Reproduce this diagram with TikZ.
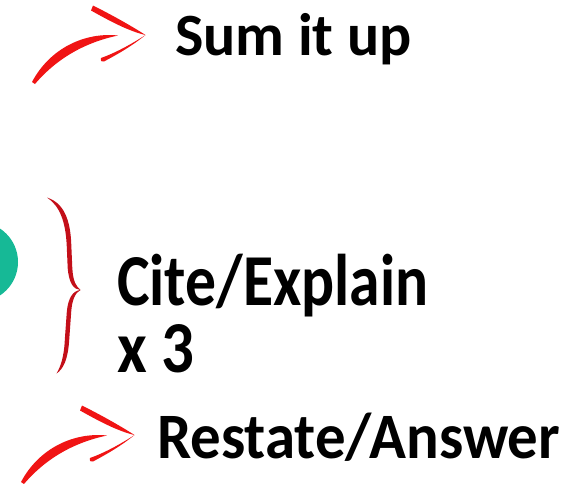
\documentclass[tikz,border=0pt]{standalone}
\usepackage{fontspec}
\setmainfont{Carlito}
\definecolor{penred}{RGB}{240,20,20}
\definecolor{bracered}{RGB}{195,15,25}
\definecolor{tealdot}{RGB}{22,185,150}
\tikzset{
  lbl/.style={anchor=base west, inner sep=0pt, font=\fontsize{60}{60}\selectfont\bfseries, text=black},
  redarrow/.pic={
    \fill[penred] (32,82) .. controls (50,48) and (85,32) .. (118,35.5)
       .. controls (87,42) and (58,57) .. (35,84) -- cycle;
    \fill[penred] (93,5.5) .. controls (110,14) and (130,25) .. (145.5,35)
       .. controls (128,31) and (108,20) .. (91,10.5) -- cycle;
    \fill[penred] (145.5,35) .. controls (130,45) and (115,53) .. (101,58)
       .. controls (100,61.5) and (102.5,62) .. (104,61.5)
       .. controls (118,54) and (132,46) .. (145.5,35) -- cycle;
  }
}
\begin{document}
\begin{tikzpicture}[x=1pt,y=-1pt]
\useasboundingbox (0,0) rectangle (584,483);
% teal dot
\fill[tealdot] (-22,262) circle (40);
% arrows
\pic at (0,0) {redarrow};
\pic at (-11,400) {redarrow};
% brace
\fill[bracered] (47,197.5) .. controls (60,206) and (65.5,222) .. (66.7,245) -- (67.7,268)
   .. controls (69,284) and (74,289.5) .. (80.5,290)
   .. controls (76.5,286.5) and (73,282) .. (72.3,268) -- (71.3,245)
   .. controls (70.5,220) and (64,203) .. (47,197.5) -- cycle;
\fill[bracered] (80.5,290) .. controls (73,290.5) and (68,298) .. (66.8,312) -- (64.8,340)
   .. controls (64,357) and (60.5,367) .. (56.5,373.5)
   .. controls (63.5,369) and (68,359) .. (69.2,340) -- (71.2,312)
   .. controls (72,299.5) and (75.5,292.5) .. (80.5,290) -- cycle;
% texts
\node[lbl] (sum) at (175,55) {Sum it up};
\node[lbl] (cite) at (117,305) {\scalebox{1.027}[1.22]{Cite/Explain}};
\node[lbl] (x3) at (117,372) {\scalebox{1.08}[1.22]{x 3}};
\node[lbl] (rest) at (157,458) {\scalebox{1.015}[1.08]{Restate/Answer}};
\end{tikzpicture}
\end{document}
